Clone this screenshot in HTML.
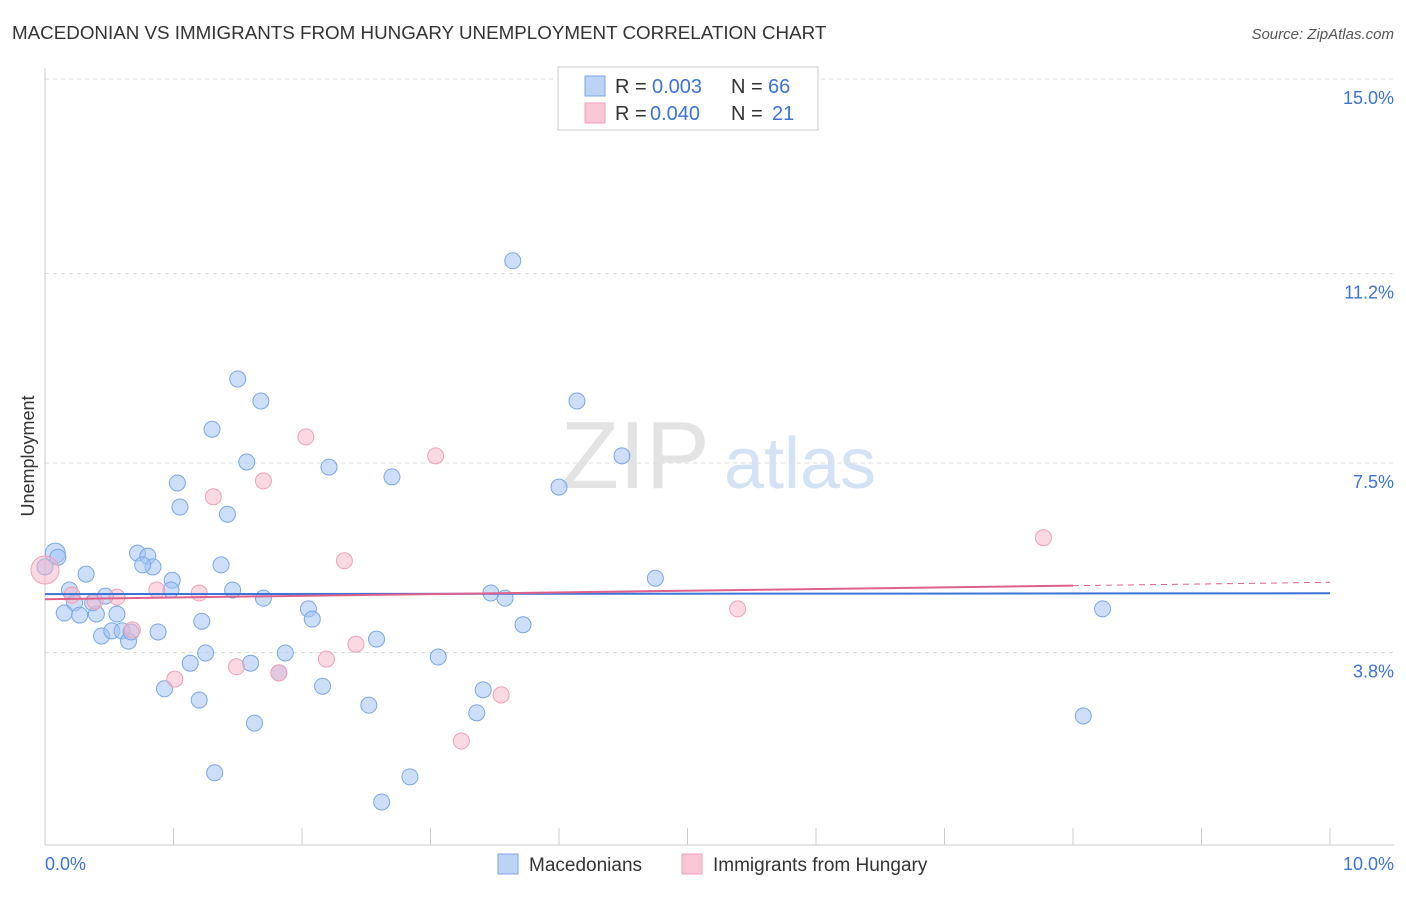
<!DOCTYPE html>
<html><head><meta charset="utf-8"><style>
body{margin:0;background:#fff;font-family:"Liberation Sans",sans-serif}
svg text{font-family:"Liberation Sans",sans-serif}
</style></head><body>
<svg id="c" width="1406" height="892">
<text x="12" y="39" font-size="18.8" fill="#333">MACEDONIAN VS IMMIGRANTS FROM HUNGARY UNEMPLOYMENT CORRELATION CHART</text>
<text x="1394" y="39" font-size="15" fill="#555" font-style="italic" text-anchor="end">Source: ZipAtlas.com</text>
<text x="635" y="488" font-size="96" fill="#e3e3e3" font-family="Liberation Serif" text-anchor="middle">ZIP</text>
<text x="800" y="488" font-size="72" fill="#d4e2f6" text-anchor="middle">atlas</text>
<text x="34" y="456" font-size="18" fill="#333" text-anchor="middle" transform="rotate(-90 34 456)">Unemployment</text>
<g id="grid"></g><g id="marks"></g>
<g>
<rect x="558" y="67" width="260" height="63" fill="#fff" stroke="#ccc"/>
<rect x="585" y="76" width="20" height="20" fill="#bcd3f5" stroke="#7aa7e8"/>
<rect x="585" y="103" width="20" height="20" fill="#f9c6d5" stroke="#f0a0b8"/>
<text x="615" y="93" font-size="20" fill="#333">R =</text>
<text x="652" y="93" font-size="20" fill="#3b73d6">0.003</text>
<text x="731" y="93" font-size="20" fill="#333">N =</text>
<text x="768" y="93" font-size="20" fill="#3b73d6">66</text>
<text x="615" y="120" font-size="20" fill="#333">R =</text>
<text x="650" y="120" font-size="20" fill="#3b73d6">0.040</text>
<text x="731" y="120" font-size="20" fill="#333">N =</text>
<text x="772" y="120" font-size="20" fill="#3b73d6">21</text>
</g>
<g>
<rect x="498" y="854" width="20" height="20" fill="#bcd3f5" stroke="#7aa7e8"/>
<text x="529" y="871" font-size="19" fill="#333">Macedonians</text>
<rect x="682" y="854" width="20" height="20" fill="#f9c6d5" stroke="#f0a0b8"/>
<text x="713" y="871" font-size="19" fill="#333">Immigrants from Hungary</text>
</g>
<text x="45" y="870" font-size="18" fill="#3b73d6">0.0%</text>
<text x="1394" y="870" font-size="18" fill="#3b73d6" text-anchor="end">10.0%</text>
</svg>
<script>
const yTicks=[15.0,11.2,7.5,3.8];
const yTickLabels=["15.0%","11.2%","7.5%","3.8%"];
const blueX=[.08,.10,.19,.32,.23,.15,.27,.40,.37,.47,.56,.44,.52,.60,.65,.67,.72,.80,.84,.76,.88,.99,.98,1.03,1.05,.93,1.13,1.20,1.22,1.25,1.30,1.32,1.37,1.42,1.46,1.50,1.57,1.60,1.63,1.68,1.70,1.82,1.87,2.05,2.08,2.16,2.21,2.52,2.58,2.62,2.70,2.84,3.06,3.36,3.41,3.47,3.58,3.64,3.72,4.00,4.14,4.49,4.75,8.08,8.23,0];
const blueY=[5.74,5.66,5.02,5.33,4.77,4.57,4.53,4.55,4.77,4.90,4.55,4.12,4.22,4.22,4.02,4.20,5.74,5.68,5.47,5.51,4.20,5.21,5.02,7.11,6.64,3.09,3.59,2.87,4.41,3.79,8.16,1.45,5.51,6.50,5.02,9.14,7.52,3.59,2.42,8.71,4.86,3.40,3.79,4.65,4.45,3.14,7.42,2.77,4.06,0.88,7.23,1.37,3.71,2.62,3.07,4.96,4.86,11.45,4.34,7.03,8.71,7.64,5.25,2.56,4.65,5.47];
const pinkX=[0,.21,.39,.56,.68,.87,1.01,1.20,1.31,1.49,1.70,1.82,2.03,2.19,2.33,2.42,3.04,3.24,3.55,5.39,7.77];
const pinkY=[5.41,4.92,4.80,4.88,4.24,5.02,3.28,4.96,6.84,3.52,7.15,3.40,8.01,3.67,5.59,3.96,7.64,2.07,2.97,4.65,6.04];
const blueTrend=[4.94,0.0015];
const pinkTrend=[4.84,0.033];
const NS="http://www.w3.org/2000/svg";
const X=v=>45+v*128.5, Y=v=>79+(15-v)*51.2;
function mk(t,a,p){const e=document.createElementNS(NS,t);for(const k in a)e.setAttribute(k,a[k]);p.appendChild(e);return e;}
const g=document.getElementById('grid'),m=document.getElementById('marks');
yTicks.forEach((t,i)=>{const l=mk('line',{x1:45,x2:1394,y1:Y(t),y2:Y(t),stroke:'#ddd','stroke-dasharray':'4,4'},g);


const tx=mk('text',{x:1394,y:Y(t)+25,'font-size':18,fill:'#3b73d6','text-anchor':'end'},g);tx.textContent=yTickLabels[i];

});
const ax=mk('line',{x1:45,x2:1394,y1:845,y2:845,stroke:'#ccc'},g);


const ay=mk('line',{x1:45,x2:45,y1:68,y2:845,stroke:'#ccc'},g);


for(let i=0;i<=10;i++){const t=mk('line',{x1:X(i),x2:X(i),y1:828,y2:845,stroke:'#ccc'},g);

}
blueX.forEach((x,i)=>{const c=mk('circle',{cx:X(x),cy:Y(blueY[i]),r:i==0?10:8,fill:'rgba(164,194,244,0.55)',stroke:'#7aa7e8','stroke-width':1},m);

});
pinkX.forEach((x,i)=>{const c=mk('circle',{cx:X(x),cy:Y(pinkY[i]),r:i==0?14:8,fill:'rgba(248,180,200,0.5)',stroke:'#f0a0b8','stroke-width':1},m);

});
const bl=mk('line',{x1:X(0),x2:X(10),y1:Y(blueTrend[0]),y2:Y(blueTrend[0]+10*blueTrend[1]),stroke:'#3b73d6','stroke-width':2},m);


const pl=mk('line',{x1:X(0),x2:X(8),y1:Y(pinkTrend[0]),y2:Y(pinkTrend[0]+8*pinkTrend[1]),stroke:'#e0608a','stroke-width':2},m);


const pd=mk('line',{x1:X(8),x2:X(10),y1:Y(pinkTrend[0]+8*pinkTrend[1]),y2:Y(pinkTrend[0]+10*pinkTrend[1]),stroke:'#e0608a','stroke-width':1,'stroke-dasharray':'6,5'},m);


</script>
</body></html>
